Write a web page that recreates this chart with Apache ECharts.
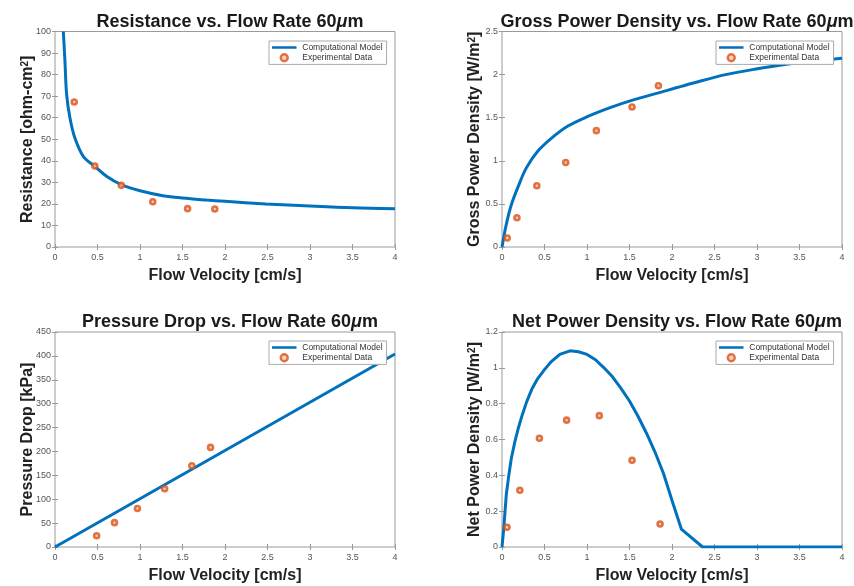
<!DOCTYPE html>
<html><head><meta charset="utf-8">
<script src="https://cdn.jsdelivr.net/npm/echarts@6/dist/echarts.min.js"></script>
<style>html,body{margin:0;padding:0;background:#fff}#c{width:854px;height:586px}</style>
</head><body><div id="c"></div>
<script>
// ---------- data ----------
const legendNames = ['Computational Model', 'Experimental Data'];
const titleTexts = [
  'Resistance vs. Flow Rate 60{i|μ}m',
  'Gross Power Density vs. Flow Rate 60{i|μ}m',
  'Pressure Drop vs. Flow Rate 60{i|μ}m',
  'Net Power Density vs. Flow Rate 60{i|μ}m'
];
const xName = 'Flow Velocity [cm/s]';
const yNames = [
  'Resistance [ohm-cm{s|2}]',
  'Gross Power Density [W/m{s|2}]',
  'Pressure Drop [kPa]',
  'Net Power Density [W/m{s|2}]'
];
const xRange = [0, 4, 0.5];
const yRanges = [[0, 100, 10], [0, 2.5, 0.5], [0, 450, 50], [0, 1.2, 0.2]];

// Resistance
const resModelX = [0.098, 0.117, 0.137, 0.176, 0.234, 0.332, 0.469, 0.606, 0.78, 1.0, 1.27, 1.5, 1.78, 2.0, 2.48, 3.0, 3.5, 4.0];
const resModelY = [100, 86.2, 70.7, 59.9, 50.6, 42.1, 37.4, 32.8, 28.9, 26.1, 23.8, 22.7, 21.8, 21.2, 20.0, 19.0, 18.2, 17.8];
const resExpX = [0.226, 0.469, 0.78, 1.15, 1.56, 1.88];
const resExpY = [67.3, 37.6, 28.6, 21.0, 17.8, 17.6];

// Gross power density
const grossModelX = [0, 0.05, 0.11, 0.19, 0.285, 0.42, 0.58, 0.77, 1.01, 1.28, 1.555, 1.83, 2.06, 2.24, 2.63, 3.02, 3.41, 4.0];
const grossModelY = [0, 0.26, 0.49, 0.70, 0.915, 1.11, 1.26, 1.40, 1.515, 1.62, 1.71, 1.785, 1.85, 1.90, 2.0, 2.07, 2.13, 2.19];
const grossExpX = [0.062, 0.176, 0.41, 0.75, 1.11, 1.53, 1.84];
const grossExpY = [0.104, 0.34, 0.71, 0.98, 1.35, 1.625, 1.87];

// Pressure drop
const presModelX = [0, 1, 2, 3, 4];
const presModelY = [0, 101, 202, 303, 404];
const presExpX = [0.49, 0.70, 0.97, 1.29, 1.61, 1.83];
const presExpY = [23.5, 51, 80.5, 122, 170, 208.5];

// Net power density
const netModelX = [0, 0.02, 0.05, 0.08, 0.11, 0.15, 0.19, 0.24, 0.29, 0.35, 0.42, 0.5, 0.58, 0.68, 0.8, 0.9, 1.0, 1.1, 1.2, 1.3, 1.4, 1.5, 1.6, 1.7, 1.8, 1.9, 2.0, 2.11, 2.36, 4.0];
const netModelY = [0, 0.10, 0.29, 0.40, 0.495, 0.585, 0.66, 0.74, 0.81, 0.88, 0.94, 0.99, 1.035, 1.075, 1.095, 1.09, 1.075, 1.045, 1.0, 0.95, 0.885, 0.815, 0.73, 0.635, 0.53, 0.41, 0.26, 0.10, 0, 0];
const netExpX = [0.059, 0.21, 0.44, 0.76, 1.145, 1.53, 1.86];
const netExpY = [0.11, 0.317, 0.607, 0.708, 0.733, 0.484, 0.128];

const modelsX = [resModelX, grossModelX, presModelX, netModelX];
const modelsY = [resModelY, grossModelY, presModelY, netModelY];
const expsX = [resExpX, grossExpX, presExpX, netExpX];
const expsY = [resExpY, grossExpY, presExpY, netExpY];

// ---------- layout ----------
const FONT = '"Liberation Sans", Arial, Helvetica, sans-serif';
const grids = [
  {left: 55, top: 31.5, width: 340, height: 215.5},
  {left: 502, top: 31.5, width: 340, height: 215.5},
  {left: 55, top: 332, width: 340, height: 215},
  {left: 502, top: 332, width: 340, height: 215}
];
const legendPos = [[269, 41], [716, 41], [269, 341], [716, 341]];

const frame = '#9a9a9a';
const tickColor = '#555';
const lineIcon = 'path://M0,0h0.01v0.01h-0.01z M0,2.6h28v2.8h-28z M27.99,7.99h0.01v0.01h-0.01z';

const option = {
  animation: false,
  backgroundColor: '#fff',
  title: [], grid: [], xAxis: [], yAxis: [], legend: [], series: []
};

const pairs = (xs, ys) => xs.map((x, i) => [x, ys[i]]);

grids.forEach((g, i) => {
  option.grid.push(Object.assign({show: true, borderColor: frame, borderWidth: 1, backgroundColor: '#fff', containLabel: false}, g));
  option.title.push({
    text: titleTexts[i],
    left: g.left + g.width / 2,
    top: g.top - 23.5,
    textAlign: 'center',
    textStyle: {
      fontFamily: FONT, fontSize: 18, fontWeight: 'bold', color: '#1a1a1a',
      rich: {i: {fontFamily: FONT, fontSize: 18, fontWeight: 'bold', fontStyle: 'italic', color: '#1a1a1a'}}
    }
  });
});

const yr = yRanges;
grids.forEach((g, i) => {
  option.xAxis.push({
    type: 'value', gridIndex: i, min: xRange[0], max: xRange[1], interval: xRange[2],
    name: xName, nameLocation: 'middle', nameGap: 21, nameMoveOverlap: false,
    nameTextStyle: {fontFamily: FONT, fontSize: 16, fontWeight: 'bold', color: '#222'},
    axisLine: {show: false},
    axisTick: {show: true, inside: true, length: 3, lineStyle: {color: frame}},
    axisLabel: {fontFamily: FONT, fontSize: 9, color: tickColor, margin: 6},
    splitLine: {show: false}
  });
  option.yAxis.push({
    type: 'value', gridIndex: i, min: yr[i][0], max: yr[i][1], interval: yr[i][2],
    name: yNames[i], nameLocation: 'middle', nameGap: 19, nameRotate: 90, nameMoveOverlap: false,
    nameTextStyle: {
      fontFamily: FONT, fontSize: 16, fontWeight: 'bold', color: '#222',
      rich: {s: {fontFamily: FONT, fontSize: 10, fontWeight: 'bold', color: '#222', verticalAlign: 'top', padding: [0, 0, 6, 0]}}
    },
    axisLine: {show: false},
    axisTick: {show: true, inside: true, length: 3, lineStyle: {color: frame}},
    axisLabel: {fontFamily: FONT, fontSize: 9, color: tickColor, margin: 4},
    splitLine: {show: false}
  });
});
grids.forEach((g, i) => {
  option.xAxis.push({
    type: 'value', gridIndex: i, position: 'top', min: xRange[0], max: xRange[1], interval: xRange[2],
    axisLine: {show: false}, axisLabel: {show: false}, splitLine: {show: false},
    axisTick: {show: true, inside: true, length: 3, lineStyle: {color: frame}}
  });
  option.yAxis.push({
    type: 'value', gridIndex: i, position: 'right', min: yr[i][0], max: yr[i][1], interval: yr[i][2],
    axisLine: {show: false}, axisLabel: {show: false}, splitLine: {show: false},
    axisTick: {show: true, inside: true, length: 3, lineStyle: {color: frame}}
  });
});

grids.forEach((g, i) => {
  option.series.push({
    name: legendNames[0], type: 'line', xAxisIndex: i, yAxisIndex: i,
    data: pairs(modelsX[i], modelsY[i]),
    symbol: 'none', clip: true,
    smooth: (i === 0 || i === 1) ? 0.35 : false,
    lineStyle: {color: '#0072BD', width: 3},
    itemStyle: {color: '#0072BD'},
    z: 2
  });
  option.series.push({
    name: legendNames[1], type: 'scatter', xAxisIndex: i, yAxisIndex: i,
    data: pairs(expsX[i], expsY[i]),
    symbol: 'circle', symbolSize: 5,
    itemStyle: {color: '#f6c9b3', borderColor: '#D95319', borderWidth: 2.6},
    z: 3
  });
  option.legend.push({
    data: [
      {name: legendNames[0], icon: lineIcon, itemStyle: {color: '#0072BD', borderWidth: 0}},
      {name: legendNames[1], icon: 'circle', itemStyle: {color: '#f6c9b3', borderColor: '#D95319', borderWidth: 2.4}}
    ],
    orient: 'vertical', left: legendPos[i][0], top: legendPos[i][1],
    itemWidth: 28, itemHeight: 7, itemGap: 1,
    padding: [2, 4, 2, 3],
    backgroundColor: '#fff', borderColor: '#aaa', borderWidth: 1, borderRadius: 0,
    selectedMode: false,
    textStyle: {fontFamily: FONT, fontSize: 8.5, color: '#333', padding: [0, 0, 0, -1]}
  });
});

const chart = echarts.init(document.getElementById('c'), null, {renderer: 'canvas'});
chart.setOption(option);
</script>
</body></html>
